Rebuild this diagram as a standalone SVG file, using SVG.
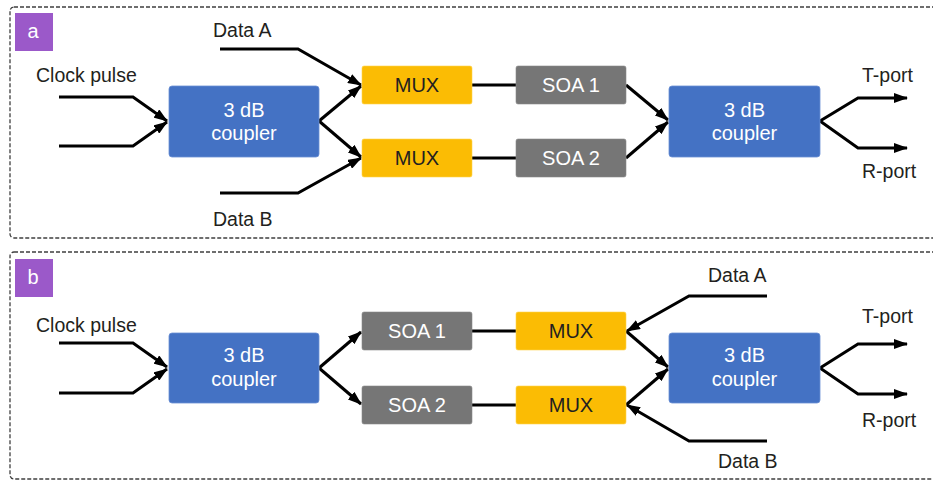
<svg xmlns="http://www.w3.org/2000/svg" width="933" height="481" viewBox="0 0 933 481">
<defs>
<style>
.panel{fill:none;stroke:#3f3f3f;stroke-width:1.3;stroke-dasharray:4 2}
.tag{fill:#9B59C9}
.tagt{fill:#fff;font-family:"Liberation Sans",Arial,sans-serif;font-size:20px;text-anchor:middle}
.cpl{fill:#4472C4;stroke:#6b8fd4;stroke-width:0.8}
.mux{fill:#FBBC04;stroke:#ffd34d;stroke-width:0.6}
.soa{fill:#767676;stroke:#8a8a8a;stroke-width:0.6}
.wt{fill:#fff;font-family:"Liberation Sans",Arial,sans-serif;font-size:20px;text-anchor:middle}
.bt{fill:#231F20;font-family:"Liberation Sans",Arial,sans-serif;font-size:20px;text-anchor:middle}
.lbl{fill:#231F20;font-family:"Liberation Sans",Arial,sans-serif;font-size:19.5px}
.w{fill:none;stroke:#000;stroke-width:3;stroke-linejoin:miter}
.wa{fill:none;stroke:#000;stroke-width:3;marker-end:url(#ah)}
</style>
<marker id="ah" viewBox="0 0 14 10" refX="13" refY="5" markerWidth="14" markerHeight="10" markerUnits="userSpaceOnUse" orient="auto">
<path d="M0,0 L14,5 L0,10 z" fill="#000"/>
</marker>
</defs>
<rect width="933" height="481" fill="#fff"/>

<g id="panel-a">
<rect class="panel" x="10" y="7" width="930" height="231" rx="4"/>
<rect class="tag" x="15" y="13" width="38" height="38"/>
<text class="tagt" x="33" y="38">a</text>
</g>
<g id="panel-b">
<rect class="panel" x="10" y="252" width="930" height="227" rx="4"/>
<rect class="tag" x="15" y="259" width="38" height="38"/>
<text class="tagt" x="33" y="284">b</text>
</g>

<g id="connectors">
<!-- panel a -->
<polyline class="wa" points="59,97 133,97 167,121"/>
<polyline class="wa" points="59,146 133,146 167,122"/>
<polyline class="wa" points="220,49 298,49 361,85"/>
<polyline class="wa" points="220,193 298,193 361,158"/>
<line class="wa" x1="319" y1="121" x2="361" y2="86"/>
<line class="wa" x1="319" y1="121" x2="361" y2="157"/>
<line class="w" x1="472" y1="85" x2="516" y2="85"/>
<line class="w" x1="472" y1="158" x2="516" y2="158"/>
<line class="wa" x1="626" y1="85" x2="668" y2="120"/>
<line class="wa" x1="626" y1="158" x2="668" y2="122"/>
<polyline class="wa" points="820,121 858,98 907,98"/>
<polyline class="wa" points="820,121 858,148 907,148"/>
<!-- panel b -->
<polyline class="wa" points="59,343 133,343 167,367"/>
<polyline class="wa" points="59,393 133,393 167,369"/>
<line class="wa" x1="319" y1="368" x2="361" y2="332"/>
<line class="wa" x1="319" y1="368" x2="361" y2="404"/>
<line class="w" x1="472" y1="331" x2="516" y2="331"/>
<line class="w" x1="472" y1="405" x2="516" y2="405"/>
<polyline class="wa" points="767,296 689,296 627,331"/>
<polyline class="wa" points="767,441 689,441 627,405"/>
<line class="wa" x1="626" y1="331" x2="668" y2="367"/>
<line class="wa" x1="626" y1="405" x2="668" y2="369"/>
<polyline class="wa" points="820,368 858,344 907,344"/>
<polyline class="wa" points="820,368 858,394 907,394"/>
</g>

<g id="labels">
<text class="lbl" x="36" y="82">Clock pulse</text>
<text class="lbl" x="213" y="37">Data A</text>
<text class="lbl" x="213" y="226">Data B</text>
<text class="lbl" x="862" y="82">T-port</text>
<text class="lbl" x="862" y="178">R-port</text>
<text class="lbl" x="36" y="332">Clock pulse</text>
<text class="lbl" x="708" y="282">Data A</text>
<text class="lbl" x="718" y="468">Data B</text>
<text class="lbl" x="862" y="323">T-port</text>
<text class="lbl" x="862" y="427">R-port</text>
</g>

<g id="a-coupler-in">
<rect class="cpl" x="169" y="86" width="150" height="71" rx="3"/>
<text class="wt" x="244" y="117">3 dB</text>
<text class="wt" x="244" y="140">coupler</text>
</g>
<g id="a-mux1">
<rect class="mux" x="362" y="66" width="110" height="38" rx="2"/>
<text class="bt" x="417" y="92">MUX</text>
</g>
<g id="a-mux2">
<rect class="mux" x="362" y="139" width="110" height="38" rx="2"/>
<text class="bt" x="417" y="165">MUX</text>
</g>
<g id="a-soa1">
<rect class="soa" x="516" y="66" width="110" height="38" rx="2"/>
<text class="wt" x="571" y="92">SOA 1</text>
</g>
<g id="a-soa2">
<rect class="soa" x="516" y="139" width="110" height="38" rx="2"/>
<text class="wt" x="571" y="165">SOA 2</text>
</g>
<g id="a-coupler-out">
<rect class="cpl" x="669" y="86" width="151" height="71" rx="3"/>
<text class="wt" x="744.5" y="117">3 dB</text>
<text class="wt" x="744.5" y="140">coupler</text>
</g>

<g id="b-coupler-in">
<rect class="cpl" x="169" y="333" width="150" height="70" rx="3"/>
<text class="wt" x="244" y="362">3 dB</text>
<text class="wt" x="244" y="386">coupler</text>
</g>
<g id="b-soa1">
<rect class="soa" x="362" y="312" width="110" height="38" rx="2"/>
<text class="wt" x="417" y="338">SOA 1</text>
</g>
<g id="b-soa2">
<rect class="soa" x="362" y="386" width="110" height="38" rx="2"/>
<text class="wt" x="417" y="412">SOA 2</text>
</g>
<g id="b-mux1">
<rect class="mux" x="516" y="312" width="110" height="38" rx="2"/>
<text class="bt" x="571" y="338">MUX</text>
</g>
<g id="b-mux2">
<rect class="mux" x="516" y="386" width="110" height="38" rx="2"/>
<text class="bt" x="571" y="412">MUX</text>
</g>
<g id="b-coupler-out">
<rect class="cpl" x="669" y="333" width="151" height="70" rx="3"/>
<text class="wt" x="744.5" y="362">3 dB</text>
<text class="wt" x="744.5" y="386">coupler</text>
</g>
</svg>
